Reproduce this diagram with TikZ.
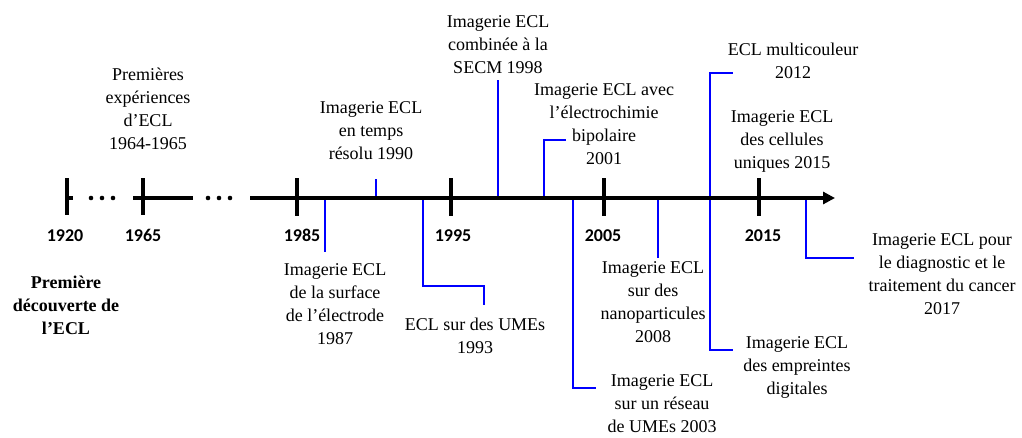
\documentclass[tikz,border=0pt]{standalone}
\usepackage{fontspec}
\setmainfont{Liberation Serif}
\newfontfamily\eventfont{Liberation Serif}
\newfontfamily\yearfont{Carlito}
\usetikzlibrary{arrows.meta}
\def\axisy{198}
\tikzset{axis/.style={line width=3.5pt, black, -{Triangle[length=12pt, width=12pt]}}}
\tikzset{tick/.style={line width=3.5pt, black}}
\tikzset{lead/.style={line width=2.5pt, blue}}
\tikzset{event/.style={font=\eventfont\fontsize{18}{23}\selectfont, align=center, inner sep=0pt, anchor=north}}
\tikzset{first/.style={event, font=\eventfont\bfseries\fontsize{18}{23}\selectfont}}
\tikzset{year/.style={font=\yearfont\bfseries\fontsize{18}{23}\selectfont, inner sep=0pt, anchor=base}}
\begin{document}
\begin{tikzpicture}[x=1pt, y=-1pt]
\useasboundingbox (0,0) rectangle (1022,437);
\coordinate (a1987) at (325,\axisy);
\coordinate (a1990) at (376,\axisy);
\coordinate (a1993) at (423,\axisy);
\coordinate (a1998) at (498,\axisy);
\coordinate (a2001) at (544,\axisy);
\coordinate (a2003) at (573,\axisy);
\coordinate (a2008) at (658,\axisy);
\coordinate (a2012) at (710,\axisy);
\coordinate (a2017) at (806,\axisy);
\coordinate (b1987) at (325,252);
\coordinate (b1990) at (376,179);
\coordinate (k1993) at (484,286);
\coordinate (b1993) at (484,305);
\coordinate (b1998) at (498,80);
\coordinate (b2001) at (566,140);
\coordinate (b2003) at (596,388);
\coordinate (b2008) at (658,258);
\coordinate (t2012) at (733,73);
\coordinate (b2012) at (733,350);
\coordinate (b2017) at (854,258);
\draw[lead] (a1987) -- (b1987);
\draw[lead] (a1990) -- (b1990);
\draw[lead] (a1993) |- (k1993) -- (b1993);
\draw[lead] (a1998) -- (b1998);
\draw[lead] (a2001) |- (b2001);
\draw[lead] (a2003) |- (b2003);
\draw[lead] (a2008) -- (b2008);
\draw[lead] (a2012) |- (t2012);
\draw[lead] (a2012) |- (b2012);
\draw[lead] (a2017) |- (b2017);
\draw[tick] (67,178) -- (67,215);
\draw[tick] (67,\axisy) -- (73,\axisy);
\draw[tick] (133,\axisy) -- (193,\axisy);
\draw[tick] (143,178) -- (143,215);
\draw[axis] (250,\axisy) -- (835,\axisy);
\foreach \x in {297,451,604,759} \draw[tick] (\x,178) -- (\x,216);
\foreach \x in {91,102,113,208,219,230} \fill (\x,\axisy) circle (2.3pt);
\node[year] (y1920) at (65,241) {1920};
\node[year] (y1965) at (143,241) {1965};
\node[year] (y1985) at (302,241) {1985};
\node[year] (y1995) at (453,241) {1995};
\node[year] (y2005) at (603,241) {2005};
\node[year] (y2015) at (763,241) {2015};
\node[first] (decouverte) at (66,276) {Première\\découverte de\\l’ECL};
\node[event] (e1964) at (148,68) {Premières\\expériences\\d’ECL\\1964-1965};
\node[event] (e1987) at (335,263) {Imagerie ECL\\de la surface\\de l’électrode\\1987};
\node[event] (e1990) at (371,101) {Imagerie ECL\\en temps\\résolu 1990};
\node[event] (e1993) at (475,318) {ECL sur des UMEs\\1993};
\node[event] (e1998) at (498,15) {Imagerie ECL\\combinée à la\\SECM 1998};
\node[event] (e2001) at (604,83) {Imagerie ECL avec\\l’électrochimie\\bipolaire\\2001};
\node[event] (e2003) at (662,374) {Imagerie ECL\\sur un réseau\\de UMEs 2003};
\node[event] (e2008) at (653,261) {Imagerie ECL\\sur des\\nanoparticules\\2008};
\node[event] (e2012) at (793,43) {ECL multicouleur\\2012};
\node[event] (e2015) at (782,110) {Imagerie ECL\\des cellules\\uniques 2015};
\node[event] (eprint) at (797,336) {Imagerie ECL\\des empreintes\\digitales};
\node[event] (e2017) at (942,233) {Imagerie ECL pour\\le diagnostic et le\\traitement du cancer\\2017};
\end{tikzpicture}
\end{document}
